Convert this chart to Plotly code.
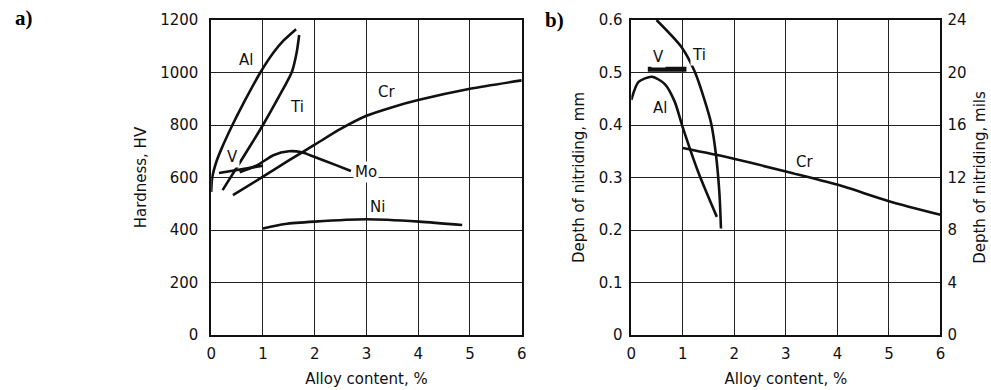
import plotly.graph_objects as go

# ---------------- Panel a) Hardness vs alloy content ----------------
al_a_x = [0.0, 0.02, 0.1, 0.2, 0.41, 0.65, 0.95, 1.2, 1.4, 1.64]
al_a_y = [545, 600, 660, 710, 800, 893, 1000, 1075, 1122, 1165]
ti_a_x = [0.22, 0.5, 0.8, 1.0, 1.3, 1.56, 1.65, 1.70]
ti_a_y = [552, 640, 735, 800, 905, 1003, 1075, 1143]
cr_a_x = [0.42, 1.0, 1.5, 2.0, 2.5, 3.0, 3.5, 4.0, 5.0, 6.0]
cr_a_y = [533, 603, 665, 725, 785, 835, 868, 895, 938, 970]
v_a_x = [0.15, 1.0]
v_a_y = [617, 645]
mo_a_x = [0.55, 0.9, 1.2, 1.5, 1.75, 2.0, 2.4, 2.7]
mo_a_y = [620, 648, 685, 700, 696, 678, 648, 625]
ni_a_x = [1.0, 1.43, 2.0, 3.0, 4.02, 4.85]
ni_a_y = [406, 423, 432, 441, 432, 419]

labels_a = ["Al", "Ti", "Cr", "V", "Mo", "Ni"]
labels_a_x = [0.67, 1.66, 3.38, 0.42, 3.0, 3.22]
labels_a_y = [1048, 870, 927, 679, 620, 489]

# ---------------- Panel b) Depth of nitriding vs alloy content ----------------
ti_b_x = [0.49, 0.97, 1.23, 1.42, 1.55, 1.64, 1.71, 1.74]
ti_b_y = [0.600, 0.549, 0.502, 0.448, 0.403, 0.346, 0.270, 0.203]
al_b_x = [0.0, 0.14, 0.40, 0.65, 0.84, 1.0, 1.3, 1.66]
al_b_y = [0.448, 0.482, 0.492, 0.478, 0.445, 0.395, 0.310, 0.225]
v_b_x = [0.32, 1.07]
v_b_y = [0.506, 0.506]
cr_b_x = [1.0, 1.93, 3.02, 4.01, 5.0, 6.0]
cr_b_y = [0.356, 0.337, 0.311, 0.286, 0.255, 0.229]

labels_b = ["V", "Ti", "Al", "Cr"]
labels_b_x = [0.52, 1.32, 0.56, 3.37]
labels_b_y = [0.530, 0.533, 0.432, 0.330]

x_ticks = [0, 1, 2, 3, 4, 5, 6]
hv_ticks = [0, 200, 400, 600, 800, 1000, 1200]
mm_ticks = [0, 0.1, 0.2, 0.3, 0.4, 0.5, 0.6]
mm_tick_text = ["0", "0.1", "0.2", "0.3", "0.4", "0.5", "0.6"]
mils_ticks = [0, 4, 8, 12, 16, 20, 24]

FONT = "DejaVu Sans"
FS = 15
INK = "#111111"

fig = go.Figure()

def curve(x, y, xa, ya, width=2.6, smooth=True):
    fig.add_trace(go.Scatter(
        x=x, y=y, xaxis=xa, yaxis=ya, mode="lines",
        line=dict(color=INK, width=width, shape="spline" if smooth else "linear",
                  smoothing=0.7),
        showlegend=False, hoverinfo="skip"))

curve(al_a_x, al_a_y, "x", "y")
curve(ti_a_x, ti_a_y, "x", "y")
curve(cr_a_x, cr_a_y, "x", "y")
curve(v_a_x, v_a_y, "x", "y", smooth=False)
curve(mo_a_x, mo_a_y, "x", "y")
curve(ni_a_x, ni_a_y, "x", "y")

curve(ti_b_x, ti_b_y, "x2", "y2")
curve(al_b_x, al_b_y, "x2", "y2")
curve(v_b_x, v_b_y, "x2", "y2", width=5, smooth=False)
curve(cr_b_x, cr_b_y, "x2", "y2")

# invisible trace to activate the mils axis
fig.add_trace(go.Scatter(x=[0], y=[0], xaxis="x2", yaxis="y3", mode="markers",
                         marker=dict(opacity=0), showlegend=False, hoverinfo="skip"))

for t, x, y in zip(labels_a, labels_a_x, labels_a_y):
    fig.add_annotation(x=x, y=y, xref="x", yref="y", text=t, showarrow=False,
                       font=dict(family=FONT, size=FS, color=INK), bgcolor="white")
for t, x, y in zip(labels_b, labels_b_x, labels_b_y):
    fig.add_annotation(x=x, y=y, xref="x2", yref="y2", text=t, showarrow=False,
                       font=dict(family=FONT, size=FS, color=INK), bgcolor="white")

fig.add_annotation(xref="paper", yref="paper", x=19/991, y=(335 - 18) / 315,
                   text="<b>a)</b>", showarrow=False, xanchor="center", yanchor="middle",
                   font=dict(family="Liberation Serif", size=21, color="black"))
fig.add_annotation(xref="paper", yref="paper", x=555/991, y=(335 - 20) / 315,
                   text="<b>b)</b>", showarrow=False, xanchor="center", yanchor="middle",
                   font=dict(family="Liberation Serif", size=21, color="black"))

axis_common = dict(
    showline=True, linecolor=INK, linewidth=1.6, mirror=True,
    showgrid=True, gridcolor="#222222", gridwidth=1.3, zeroline=False,
    ticks="", tickfont=dict(family=FONT, size=FS, color=INK),
    title_font=dict(family=FONT, size=FS, color=INK),
)

fig.update_layout(
    width=991, height=390,
    margin=dict(l=0, r=0, t=20, b=55),
    paper_bgcolor="white", plot_bgcolor="white",
    xaxis=dict(domain=[208.3/991, 522/991], range=[0, 6], tickvals=x_ticks,
               anchor="y", title=dict(text="Alloy content, %", standoff=12),
               ticklabelstandoff=4, **axis_common),
    yaxis=dict(domain=[0, 1], range=[0, 1200], tickvals=hv_ticks, anchor="x",
               title=dict(text="Hardness, HV", standoff=10),
               ticklabelstandoff=8, **axis_common),
    xaxis2=dict(domain=[632.7/991, 945/991], range=[0, 6], tickvals=x_ticks,
                anchor="y2", title=dict(text="Alloy content, %", standoff=12),
                ticklabelstandoff=4, **axis_common),
    yaxis2=dict(domain=[0, 1], range=[0, 0.6], tickvals=mm_ticks, ticktext=mm_tick_text,
                anchor="x2", title=dict(text="Depth of nitriding, mm", standoff=10),
                ticklabelstandoff=4, **axis_common),
    yaxis3=dict(range=[0, 24], tickvals=mils_ticks, overlaying="y2", side="right",
                anchor="x2", showgrid=False, zeroline=False, showline=False, ticks="",
                tickfont=dict(family=FONT, size=FS, color=INK),
                title=dict(text="Depth of nitriding, mils", standoff=8,
                           font=dict(family=FONT, size=FS, color=INK)),
                ticklabelstandoff=6),
)

fig.write_html("out.html")
